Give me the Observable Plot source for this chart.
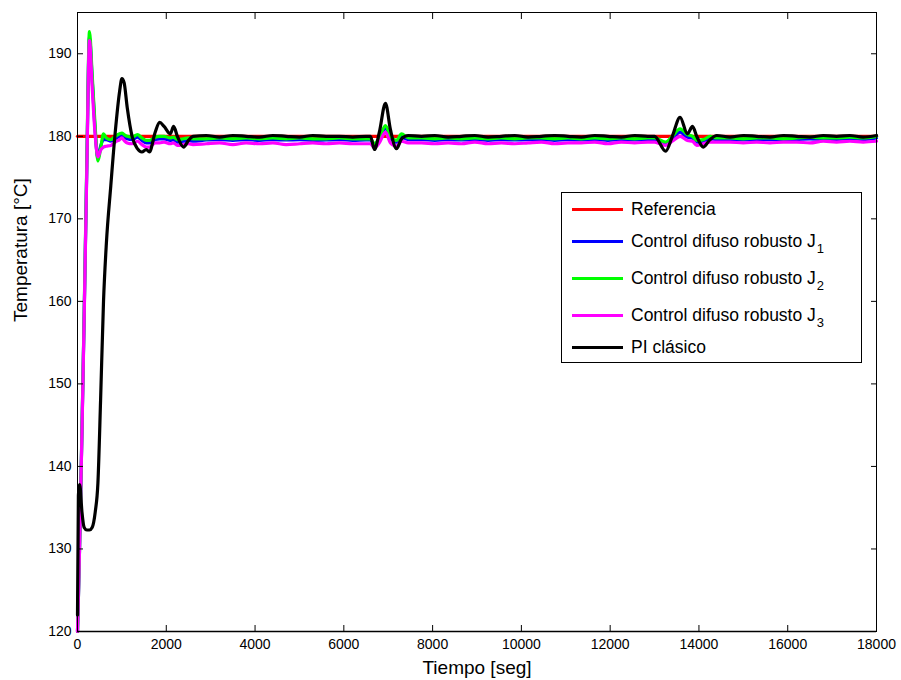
<!DOCTYPE html>
<html>
<head>
<meta charset="utf-8">
<script src="https://cdn.jsdelivr.net/npm/d3@7"></script>
<script src="https://cdn.jsdelivr.net/npm/@observablehq/plot@0.6"></script>
<style>
  html, body { margin: 0; padding: 0; background: #fff; }
  #wrap { position: relative; width: 901px; height: 680px; font-family: "Liberation Sans", Arial, sans-serif; }
  #legend { position: absolute; left: 561px; top: 192px; width: 299px; height: 169px; border: 1px solid #000; background: #fff; }
  .row { position: absolute; left: 10px; height: 20px; display: flex; align-items: center; font-size: 17.5px; color: #000; white-space: nowrap; }
  .sw { width: 51px; height: 3px; margin-right: 8px; }
  .row sub { font-size: 13px; position: relative; top: 6px; vertical-align: baseline; margin-left: 1px; }
</style>
</head>
<body>
<div id="wrap"></div>
<script>
// ---- data ----
const xTicks = [0, 2000, 4000, 6000, 8000, 10000, 12000, 14000, 16000, 18000];
const yTicks = [120, 130, 140, 150, 160, 170, 180, 190];

const refT = [0, 18000];
const refV = [180, 180];

const tiempo = [
  0, 20, 50, 100, 150, 210, 270, 330, 400, 460, 520, 586, 650, 750, 850, 950, 1000, 1050, 1120, 1230, 1350, 1450, 1550, 1620, 1750, 1850, 1950, 2090, 2165, 2250, 2390, 2500, 2600,
  2900, 3200, 3500, 3800, 4100, 4400, 4700, 5000, 5300, 5600, 5900, 6200, 6500,
  6600, 6690, 6800, 6938, 7050, 7187, 7300, 7450,
  7750, 8050, 8350, 8650, 8950, 9250, 9550, 9850, 10150, 10450, 10750, 11050, 11350, 11650, 11950, 12250, 12550, 12850,
  13000, 13250, 13400, 13575, 13740, 13855, 13950, 14100, 14250, 14400,
  14700, 15000, 15300, 15600, 15900, 16200, 16500, 16800, 17100, 17400, 17700, 18000
];

const difusoJ1 = [
  120, 124, 131, 144.2, 158.2, 176.5, 192.0, 187, 180.5, 177.3, 178.8, 179.6, 179.6, 179.4, 179.7, 180.0, 180.1, 179.9, 179.7, 179.6, 179.9, 179.5, 179.2, 179.2, 179.6, 179.7, 179.7, 179.5, 179.6, 179.3, 179.4, 179.5, 179.4,
  179.55, 179.6, 179.5, 179.6, 179.5, 179.6, 179.55, 179.6, 179.5, 179.55, 179.6, 179.5, 179.55,
  179.55, 178.9, 179.6, 181.0, 179.8, 179.3, 179.9, 179.6,
  179.6, 179.5, 179.6, 179.55, 179.6, 179.5, 179.6, 179.55, 179.6, 179.6, 179.5, 179.6, 179.55, 179.6, 179.5, 179.6, 179.55, 179.6,
  179.6, 179.1, 179.7, 180.5, 179.9, 179.8, 179.3, 179.4, 179.7, 179.6,
  179.6, 179.55, 179.6, 179.6, 179.55, 179.6, 179.7, 179.6, 179.6, 179.7, 179.6, 179.8
];

const difusoJ2 = [
  120, 124, 131, 144.5, 158.5, 177, 192.7, 187.5, 181, 177.0, 178.5, 180.3, 179.8, 179.6, 180.0, 180.3, 180.4, 180.2, 180.0, 179.9, 180.2, 179.8, 179.5, 179.5, 179.9, 180.0, 180.0, 179.8, 179.9, 179.6, 179.7, 179.8, 179.7,
  179.7, 179.8, 179.7, 179.8, 179.7, 179.8, 179.7, 179.8, 179.7, 179.7, 179.8, 179.7, 179.7,
  179.7, 179.1, 179.8, 181.3, 180.0, 179.5, 180.3, 179.8,
  179.8, 179.7, 179.8, 179.7, 179.8, 179.7, 179.8, 179.7, 179.8, 179.8, 179.7, 179.8, 179.7, 179.8, 179.7, 179.8, 179.7, 179.8,
  179.8, 179.3, 180.0, 180.9, 180.2, 180.0, 179.5, 179.6, 180.0, 179.8,
  179.8, 179.7, 179.8, 179.8, 179.7, 179.8, 179.9, 179.8, 179.8, 179.9, 179.8, 180.0
];

const difusoJ3 = [
  120, 124, 131, 144, 158, 176, 191.6, 186, 180, 177.5, 178.3, 178.7, 178.8, 178.9, 179.3, 179.6, 179.8, 179.5, 179.2, 179.1, 179.4, 179.0, 178.7, 178.7, 179.2, 179.2, 179.3, 179.1, 179.2, 178.9, 179.0, 179.1, 179.0,
  179.1, 179.2, 179.0, 179.2, 179.1, 179.2, 179.0, 179.1, 179.2, 179.1, 179.2, 179.1, 179.1,
  179.1, 178.6, 179.2, 180.5, 179.2, 178.8, 179.4, 179.2,
  179.2, 179.1, 179.2, 179.1, 179.3, 179.1, 179.2, 179.1, 179.2, 179.3, 179.1, 179.2, 179.2, 179.3, 179.1, 179.3, 179.2, 179.3,
  179.3, 178.9, 179.4, 180.0, 179.5, 179.4, 178.9, 179.1, 179.3, 179.3,
  179.3, 179.2, 179.3, 179.2, 179.3, 179.3, 179.2, 179.4, 179.3, 179.4, 179.3, 179.4
];

const piClasico = [
  122, 136.5, 137.8, 134.5, 132.6, 132.3, 132.3, 132.6, 134.5, 138, 148, 160, 167, 174, 180.5, 185.5, 187, 186.5, 183.5, 180, 178.5, 178.1, 178.4, 178.1, 180.5, 181.7, 181.2, 180.3, 181.2, 180.0, 178.7, 179.5, 180.0,
  180.1, 179.9, 180.1, 180.0, 179.9, 180.1, 180.0, 179.9, 180.1, 180.0, 180.0, 179.9, 180.0,
  180.0, 178.4, 180.5, 184.0, 180.8, 178.5, 179.7, 180.1,
  180.0, 180.1, 179.9, 180.0, 180.1, 179.9, 180.0, 180.1, 179.9, 180.0, 180.1, 180.0, 179.9, 180.1, 180.0, 179.9, 180.1, 180.0,
  180.0, 178.2, 180.0, 182.3, 180.3, 181.2, 180.0, 178.7, 179.6, 180.1,
  179.9, 180.1, 180.0, 179.9, 180.1, 180.0, 179.9, 180.1, 180.0, 180.1, 179.9, 180.1
];

const seriesNames = ["Referencia", "Control difuso robusto J1", "Control difuso robusto J2", "Control difuso robusto J3", "PI clásico"];
const seriesColors = ["#ff0000", "#0000ff", "#00ff00", "#ff00ff", "#000000"];

// ---- build ----
const toRows = (ts, vs) => ts.map((t, i) => ({t, v: vs[i]}));
const seriesData = [
  toRows(refT, refV),
  toRows(tiempo, difusoJ1),
  toRows(tiempo, difusoJ2),
  toRows(tiempo, difusoJ3),
  toRows(tiempo, piClasico)
];

const font = "Liberation Sans, Arial, Helvetica, sans-serif";

const chart = Plot.plot({
  width: 901,
  height: 680,
  marginLeft: 77,
  marginRight: 25,
  marginTop: 12,
  marginBottom: 49,
  style: {fontFamily: font, fontSize: "14px", color: "#000", background: "#fff"},
  x: {domain: [0, 18000]},
  y: {domain: [120, 195]},
  marks: [
    ...seriesData.map((rows, i) => Plot.line(rows, {
      x: "t", y: "v", stroke: seriesColors[i], strokeWidth: 3.2,
      curve: i === 0 ? "linear" : "monotone-x", strokeLinejoin: "round"
    })),
    Plot.axisX({anchor: "bottom", ticks: xTicks, tickSize: 0, tickPadding: 8, tickFormat: d => String(d), label: null, fill: "#000"}),
    Plot.axisX({anchor: "bottom", ticks: xTicks, tickSize: -6, tickFormat: () => "", label: null, stroke: "#000"}),
    Plot.axisX({anchor: "top", ticks: xTicks, tickSize: -6, tickFormat: () => "", label: null, stroke: "#000"}),
    Plot.axisY({anchor: "left", ticks: yTicks, tickSize: 0, tickPadding: 6, tickFormat: d => String(d), label: null, fill: "#000"}),
    Plot.axisY({anchor: "left", ticks: yTicks, tickSize: -6, tickFormat: () => "", label: null, stroke: "#000"}),
    Plot.axisY({anchor: "right", ticks: yTicks, tickSize: -6, tickFormat: () => "", label: null, stroke: "#000"}),
    Plot.frame({stroke: "#000", strokeWidth: 1}),
    Plot.ruleY([120], {stroke: "#000", strokeWidth: 1.5}),
    Plot.text(["Tiempo [seg]"], {frameAnchor: "bottom", dy: 36, fontSize: 19, fill: "#000", lineAnchor: "middle"}),
    Plot.text(["Temperatura [°C]"], {frameAnchor: "left", dx: -57, rotate: -90, fontSize: 19, fill: "#000", lineAnchor: "middle"})
  ]
});

const wrap = document.getElementById("wrap");
wrap.appendChild(chart);

// legend (inside the axes box, as in the reference)
const legend = document.createElement("div");
legend.id = "legend";
const rowTops = [6, 38, 75, 112, 144];
const labelsHtml = [
  "Referencia",
  "Control difuso robusto J<sub>1</sub>",
  "Control difuso robusto J<sub>2</sub>",
  "Control difuso robusto J<sub>3</sub>",
  "PI clásico"
];
labelsHtml.forEach((html, i) => {
  const row = document.createElement("div");
  row.className = "row";
  row.style.top = rowTops[i] + "px";
  row.innerHTML = `<div class="sw" style="background:${seriesColors[i]}"></div><span>${html}</span>`;
  legend.appendChild(row);
});
wrap.appendChild(legend);
</script>
</body>
</html>
